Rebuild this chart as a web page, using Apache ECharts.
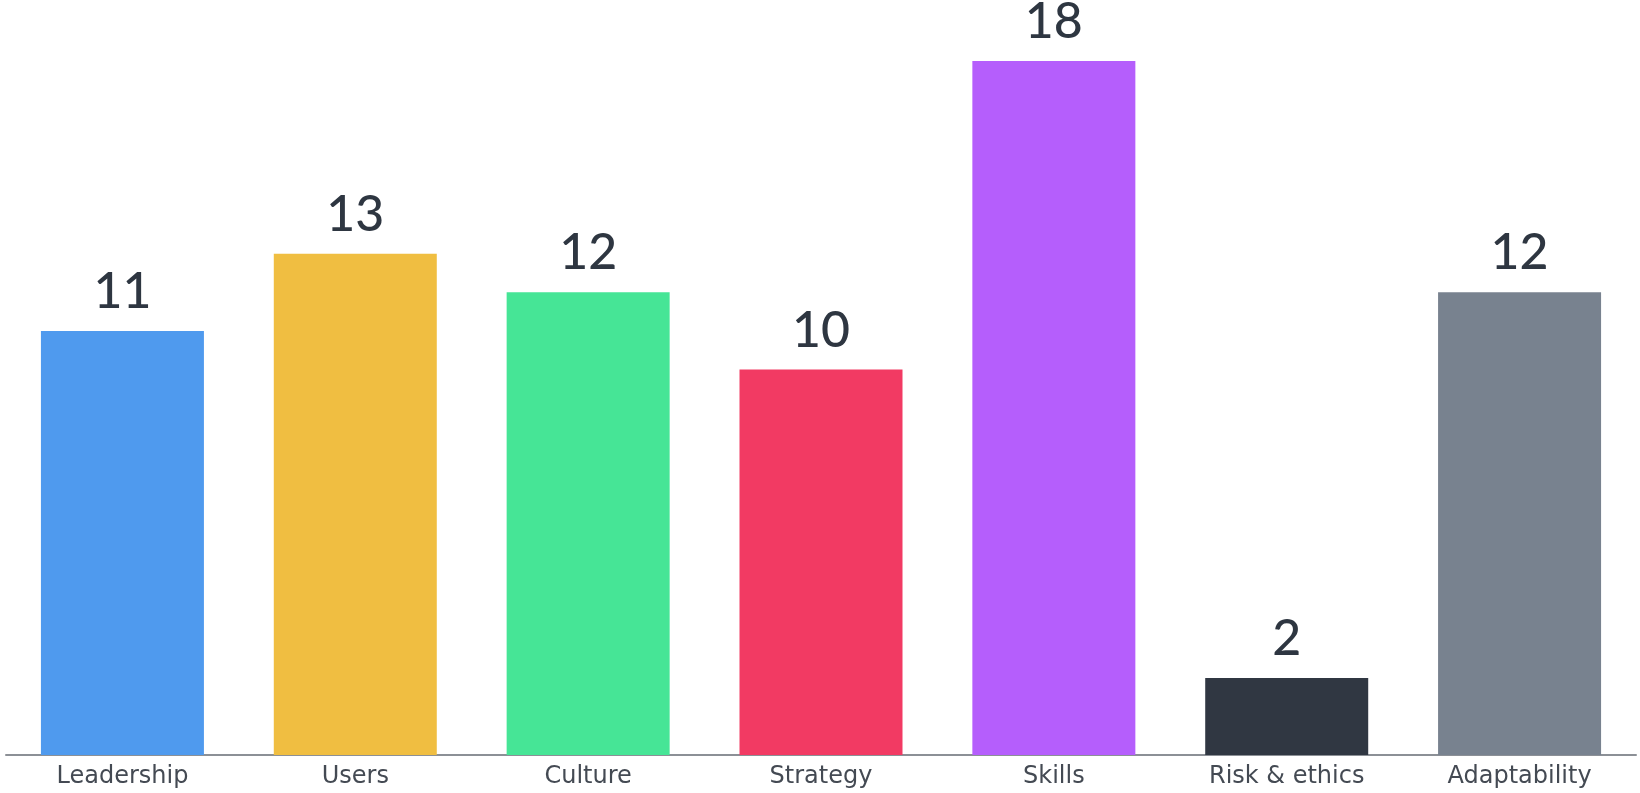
<!DOCTYPE html>
<html>
<head>
<meta charset="utf-8">
<script src="https://cdn.jsdelivr.net/npm/echarts@6/dist/echarts.min.js"></script>
<style>html,body{margin:0;padding:0;background:#fff;}#c{width:1640px;height:793px;}</style>
</head>
<body>
<div id="c"></div>
<script>
const categories = ['Leadership', 'Users', 'Culture', 'Strategy', 'Skills', 'Risk & ethics', 'Adaptability'];
const values = [11, 13, 12, 10, 18, 2, 12];
const colors = ['#4f9aee', '#f0be41', '#46e596', '#f23a63', '#b55efc', '#303742', '#78828f'];

const chart = echarts.init(document.getElementById('c'), null, {renderer: 'canvas'});
chart.setOption({
  animation: false,
  backgroundColor: '#ffffff',
  grid: {left: 6, right: 4, top: 61, bottom: 38, containLabel: false},
  xAxis: {
    type: 'category',
    data: categories,
    axisLine: {show: true, lineStyle: {color: '#8c9096', width: 2}},
    axisTick: {show: false},
    axisLabel: {color: '#444a53', fontFamily: 'DejaVu Sans', fontSize: 24, margin: 10, interval: 0}
  },
  yAxis: {
    type: 'value', min: 0, max: 18,
    show: false,
    splitLine: {show: false}
  },
  series: [{
    type: 'bar',
    data: values.map((v, i) => ({value: v, itemStyle: {color: colors[i]}})),
    barWidth: 163,
    label: {
      show: true, position: 'top', distance: 14,
      color: '#2e3641', fontFamily: 'Lato', fontSize: 50, fontWeight: 500
    }
  }]
});
</script>
</body>
</html>
